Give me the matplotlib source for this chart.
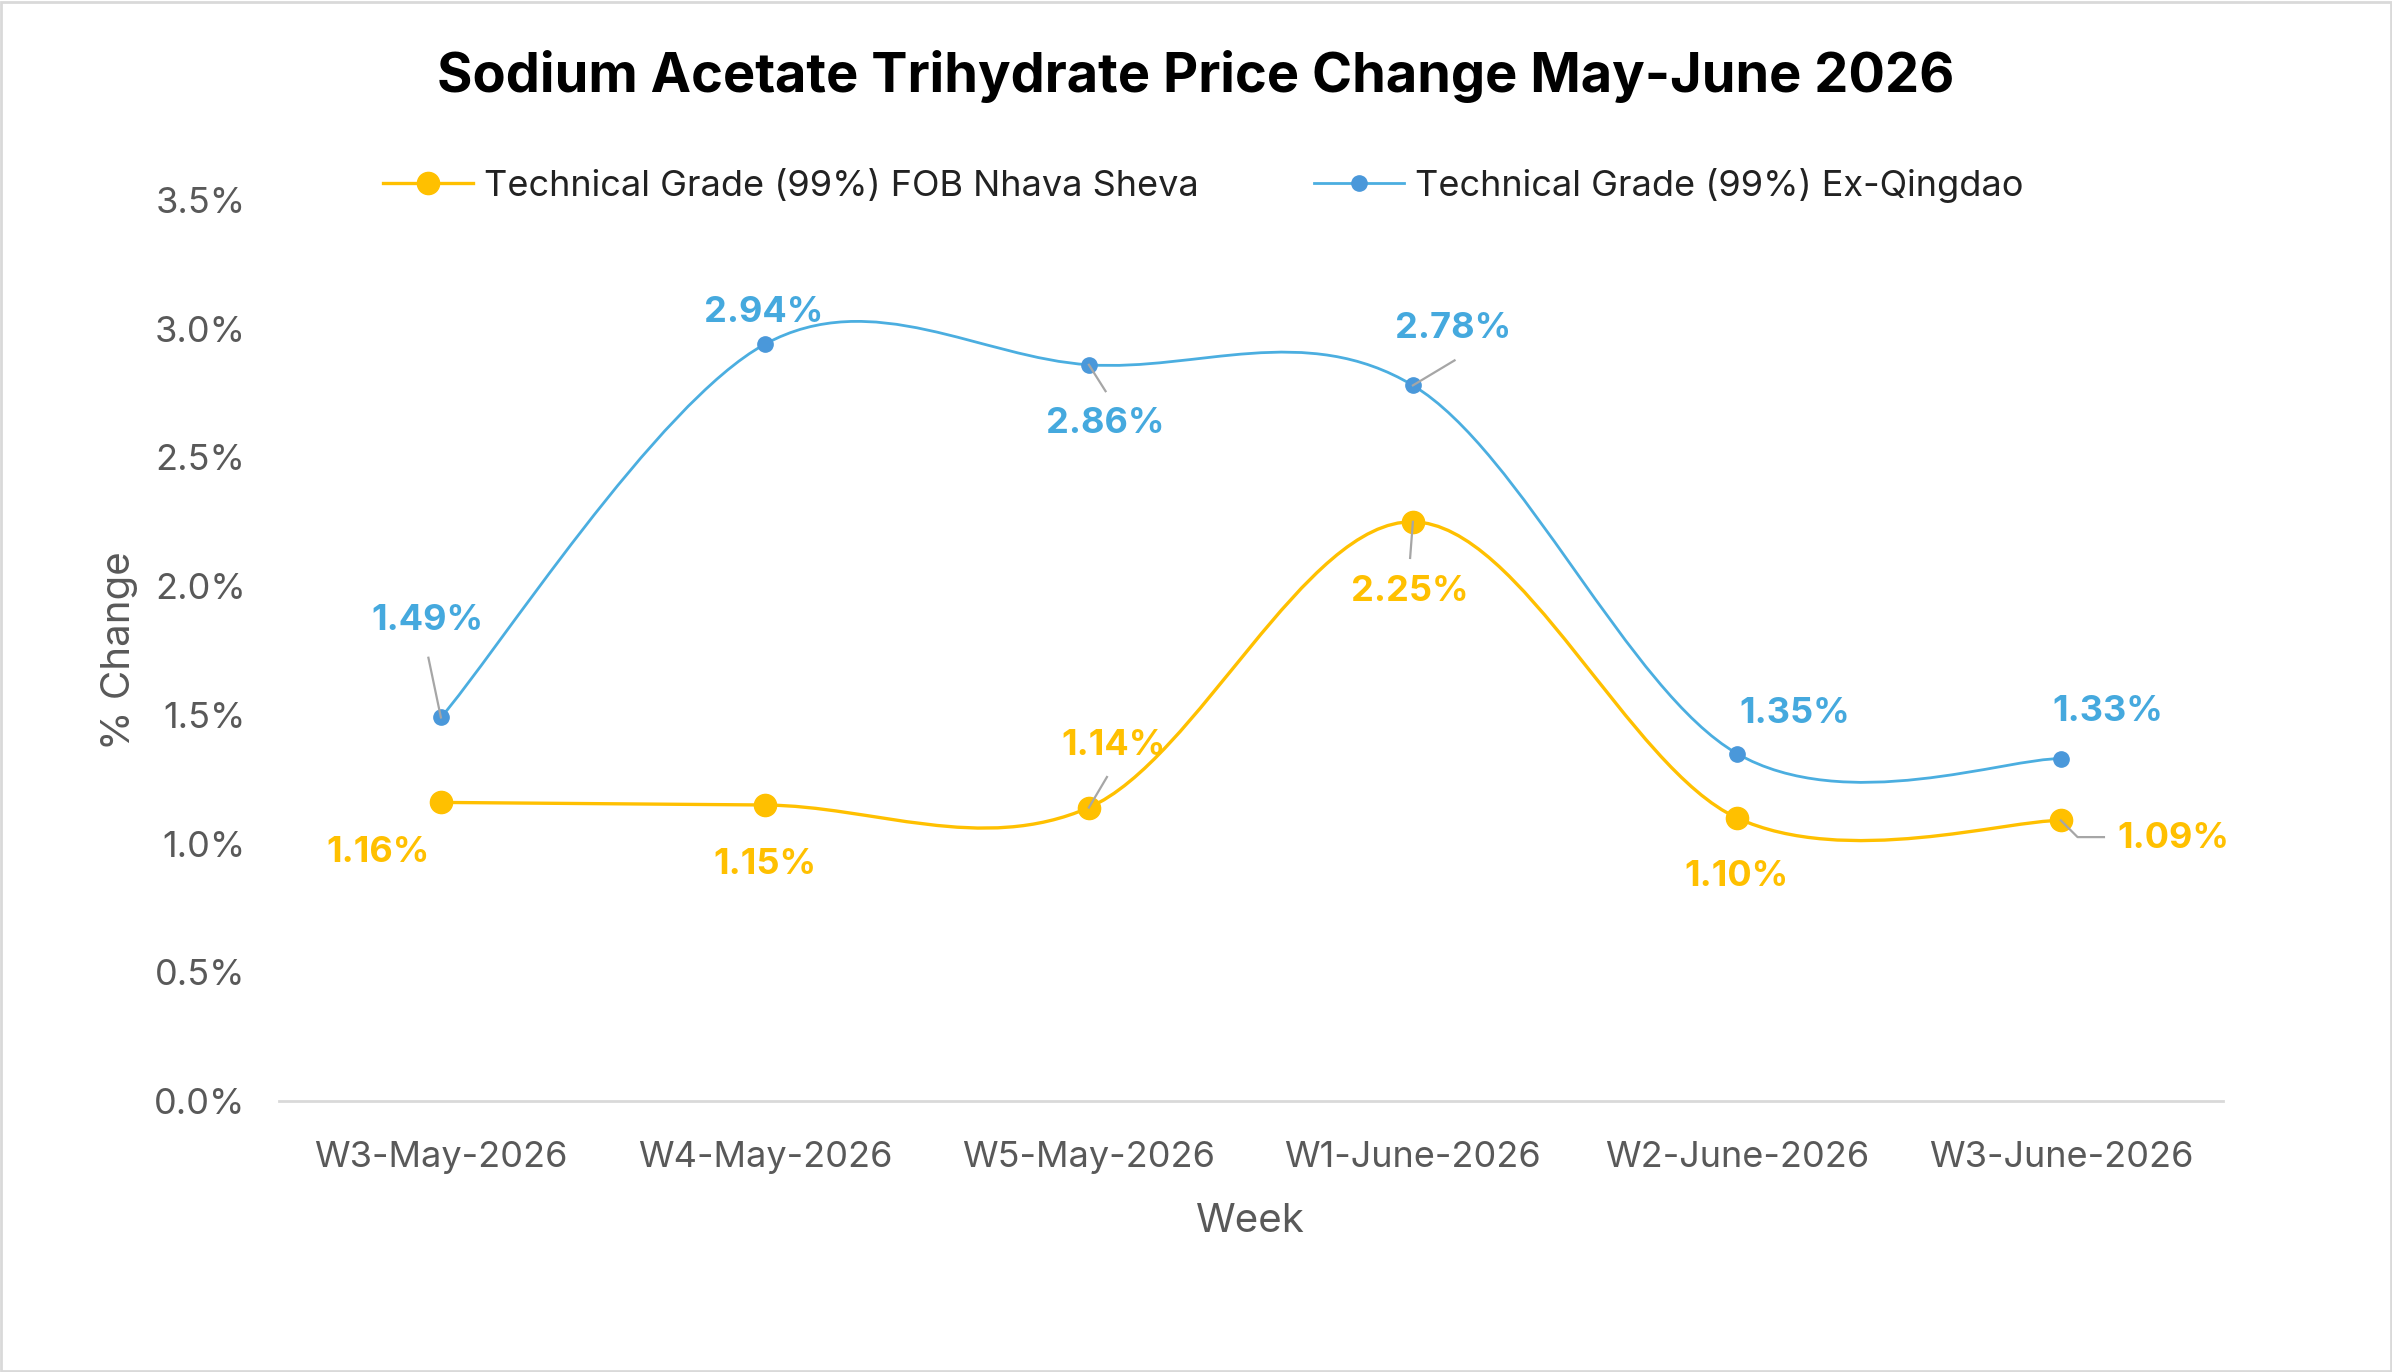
import matplotlib.pyplot as plt
from matplotlib.path import Path
from matplotlib.patches import PathPatch, Rectangle
from matplotlib.lines import Line2D
from matplotlib.ticker import FuncFormatter
import matplotlib.transforms as mtransforms
import numpy as np

plt.rcParams['font.family'] = ['Inter', 'DejaVu Sans']

# data
weeks = ['W3-May-2026', 'W4-May-2026', 'W5-May-2026',
         'W1-June-2026', 'W2-June-2026', 'W3-June-2026']
nhava_sheva = [1.16, 1.15, 1.14, 2.25, 1.10, 1.09]
qingdao = [1.49, 2.94, 2.86, 2.78, 1.35, 1.33]
series_names = ['Technical Grade (99%) FOB Nhava Sheva',
                'Technical Grade (99%) Ex-Qingdao']

YELLOW = '#FFC000'
BLUE_LINE = '#4BAEE0'
BLUE_MARK = '#4A98DA'
GRAY = '#595959'
LEADER = '#A6A6A6'

# label offsets in points (dx, dy) and leader line vertices (points, from the marker)
yellow_lbl = [(-45, -36), (0, -43), (18, 45), (-2, -50), (0, -42), (81, -13)]
yellow_lead = [None, None, [(0, 0), (13, 22)], [(0, 0), (-2, -26)], None,
               [(0, 0), (12, -12), (31, -12)]]
blue_lbl = [(-10, 70), (-1, 23), (12, -42), (29, 41), (42, 29), (34, 34)]
blue_lead = [[(0, 0), (-9, 43)], None, [(0, 0), (12, -19)], [(0, 0), (30, 18)],
             None, None]


def smooth_path(xs, ys):
    # excel-like smoothed line as cubic bezier segments
    pts = np.column_stack([xs, ys]).astype(float)
    n = len(pts)
    verts = [pts[0]]
    codes = [Path.MOVETO]
    for i in range(n - 1):
        p0 = pts[max(i - 1, 0)]
        p1 = pts[i]
        p2 = pts[i + 1]
        p3 = pts[min(i + 2, n - 1)]
        c1 = p1 + (p2 - p0) / 6.0
        c2 = p2 - (p3 - p1) / 6.0
        verts += [c1, c2, p2]
        codes += [Path.CURVE4] * 3
    return Path(verts, codes)


fig = plt.figure(figsize=(23.92, 13.72), dpi=100)
ax = fig.add_axes([0.1166, 0.1975, 0.8127, 0.6567])

x = np.arange(len(weeks))

for vals, color, mcolor, ms, lw, z in [
        (nhava_sheva, YELLOW, YELLOW, 16, 2.4, 3),
        (qingdao, BLUE_LINE, BLUE_MARK, 11, 2.0, 4)]:
    ax.add_patch(PathPatch(smooth_path(x, vals), facecolor='none',
                           edgecolor=color, lw=lw, zorder=z))
    ax.plot(x, vals, linestyle='none', marker='o', markersize=ms,
            color=mcolor, zorder=z + 0.5)

for vals, offs, leads, color in [
        (nhava_sheva, yellow_lbl, yellow_lead, YELLOW),
        (qingdao, blue_lbl, blue_lead, '#45A9DE')]:
    for i, v in enumerate(vals):
        ld = leads[i]
        if ld is not None:
            tr = (mtransforms.Affine2D().scale(fig.dpi / 72.0)
                  + mtransforms.ScaledTranslation(x[i], v, ax.transData))
            lx, ly = zip(*ld)
            ax.add_line(Line2D(lx, ly, color=LEADER, lw=1.6, transform=tr, zorder=5.5))
        ax.annotate(f'{v:.2f}%', xy=(x[i], v), xytext=offs[i],
                    textcoords='offset points', ha='center', va='center',
                    fontsize=26, fontweight='bold', color=color, zorder=6)

ax.set_xlim(-0.5, len(weeks) - 0.5)
ax.set_ylim(0, 3.5)
ax.set_yticks(np.arange(0, 3.51, 0.5))
ax.yaxis.set_major_formatter(FuncFormatter(lambda v, p: f'{v:.1f}%'))
ax.set_xticks(x)
ax.set_xticklabels(weeks)
ax.tick_params(axis='both', length=0, labelsize=26, labelcolor=GRAY)
ax.tick_params(axis='x', pad=29)
ax.tick_params(axis='y', pad=24)

for s in ['top', 'right', 'left']:
    ax.spines[s].set_visible(False)
ax.spines['bottom'].set_color('#D9D9D9')
ax.spines['bottom'].set_linewidth(2)

ax.set_xlabel('Week', fontsize=29, color=GRAY, labelpad=21)
ax.set_ylabel('% Change', fontsize=29, color=GRAY, labelpad=12)

fig.suptitle('Sodium Acetate Trihydrate Price Change May-June 2026',
             fontsize=39, fontweight='bold', y=0.944, va='center')

handles = [Line2D([], [], color=YELLOW, lw=2.4, marker='o', markersize=16),
           Line2D([], [], color=BLUE_LINE, lw=2.0, marker='o', markersize=11,
                  markerfacecolor=BLUE_MARK, markeredgecolor=BLUE_MARK)]
fig.legend(handles, series_names, loc='center', bbox_to_anchor=(0.503, 0.865),
           ncol=2, frameon=False, fontsize=26, labelcolor='#222222',
           handlelength=2.5, handletextpad=0.3, columnspacing=3.2)

fig.patches.append(Rectangle((0.0005, 0.0008), 0.999, 0.998, transform=fig.transFigure,
                             fill=False, edgecolor='#D9D9D9', lw=2))

fig.savefig('out.png', dpi=100)
